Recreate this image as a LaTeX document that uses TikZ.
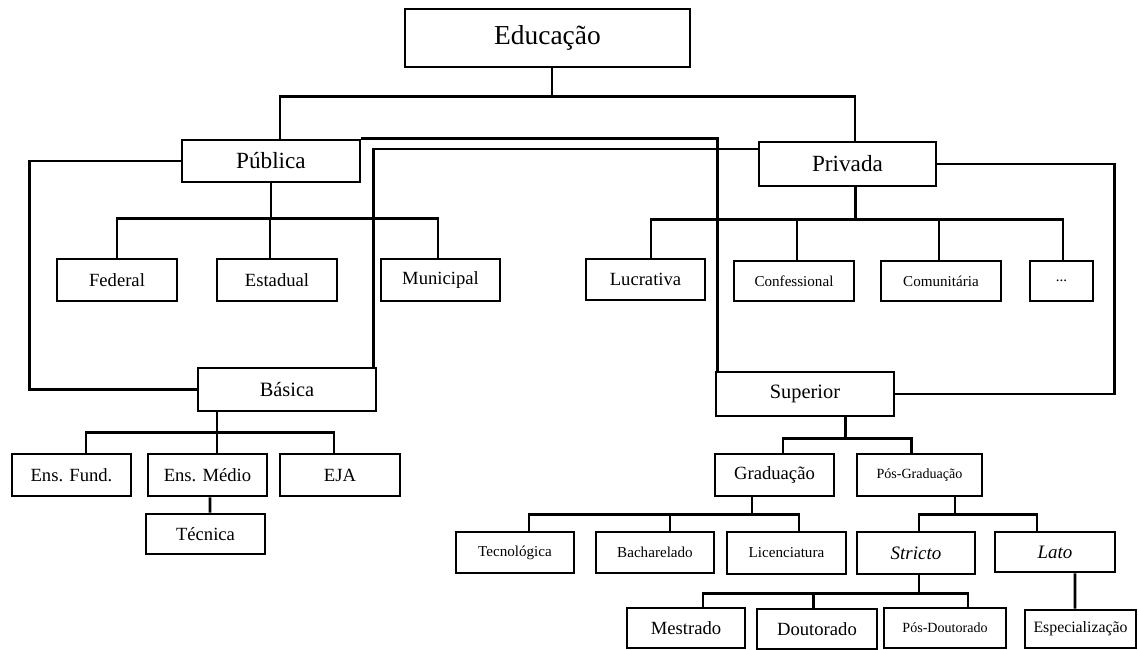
\documentclass[tikz,border=0pt]{standalone}
\usepackage{fontspec}
\setmainfont{Liberation Serif}
\tikzstyle{topbox} = [rectangle, minimum width=5.7cm, minimum height=1.16cm, text centered,
inner sep=0pt, draw=black, line width=1.5pt, font=\fontsize{15.6}{18}\selectfont]
\tikzstyle{midbox} = [rectangle, minimum width=3.56cm, minimum height=0.86cm, text centered,
inner sep=0pt, draw=black, line width=1.5pt, font=\fontsize{13.2}{15}\selectfont]
\tikzstyle{leafbox} = [rectangle, minimum width=2.38cm, minimum height=0.82cm, text centered,
inner sep=0pt, draw=black, line width=1.5pt, font=\fontsize{10.6}{12}\selectfont]
\tikzstyle{smallleaf} = [leafbox, font=\fontsize{8.6}{10}\selectfont]
\tikzstyle{link} = [line width=1.5pt]

\begin{document}
\begin{tikzpicture}[node distance = 1.5cm]
\useasboundingbox (-10.95,0.76) rectangle (11.83,-12.24);

% ------------------------- nodes -------------------------
% ----- node: 0
\node(0)[topbox]{Educação};
% ----- node: 1
\node(1)[midbox, below of=0, xshift=-5.53cm, yshift=-0.96cm, minimum height=0.84cm]{Pública};
\node(fed1)[leafbox, below of=1, xshift=-3.08cm, yshift=-0.88cm, minimum width=2.40cm, minimum height=0.84cm]{Federal};
\node(est1)[leafbox, below of=1, xshift=0.12cm, yshift=-0.88cm, minimum width=2.40cm, minimum height=0.84cm]{Estadual};
\node(mun1)[leafbox, below of=1, xshift=3.39cm, yshift=-0.88cm, minimum height=0.84cm]{Municipal};
% ----- node: 2
\node(2)[midbox, below of=0, xshift=6.00cm, yshift=-1.02cm, minimum width=3.54cm, minimum height=0.88cm]{Privada};
\node(luc2)[leafbox, below of=2, xshift=-4.04cm, yshift=-0.81cm]{Lucrativa};
\node(conf2)[smallleaf, below of=2, xshift=-1.07cm, yshift=-0.84cm, minimum width=2.40cm, minimum height=0.80cm]{Confessional};
\node(com2)[smallleaf, below of=2, xshift=1.87cm, yshift=-0.84cm, minimum width=2.40cm, minimum height=0.80cm]{Comunitária};
\node(etc2)[smallleaf, below of=2, xshift=4.28cm, yshift=-0.84cm, minimum width=1.26cm, minimum height=0.80cm]{...};
% ----- node: 3
\node(3)[midbox, below of=1, xshift=0.32cm, yshift=-3.07cm, font=\fontsize{11.6}{14}\selectfont]{Básica};
\node(fund3)[leafbox, below of=3, xshift=-4.31cm, yshift=-0.21cm, minimum height=0.84cm]{Ens. Fund.};
\node(med3)[leafbox, below of=3, xshift=-1.59cm, yshift=-0.21cm, minimum height=0.84cm]{Ens. Médio};
\node(eja3)[leafbox, below of=3, xshift=1.06cm, yshift=-0.21cm, minimum width=2.40cm, minimum height=0.84cm]{EJA};
\node(tec3)[leafbox, below of=med3, xshift=-0.04cm, yshift=0.32cm, minimum height=0.80cm]{Técnica};
% ----- node: 4
\node(4)[midbox, below of=2, xshift=-0.85cm, yshift=-3.10cm, minimum height=0.88cm, font=\fontsize{11.6}{14}\selectfont]{Superior};
% ----- node: 5
\node(5)[leafbox, below of=4, xshift=-0.61cm, yshift=-0.12cm, minimum height=0.84cm]{Graduação};
\node(tecn5)[smallleaf, below of=5, xshift=-5.19cm, yshift=-0.05cm, minimum width=2.36cm]{Tecnológica};
\node(bach5)[smallleaf, below of=5, xshift=-2.39cm, yshift=-0.05cm, minimum width=2.36cm]{Bacharelado};
\node(lic5)[smallleaf, below of=5, xshift=0.24cm, yshift=-0.06cm, minimum height=0.84cm]{Licenciatura};
% ----- node: 6
\node(6)[leafbox, below of=4, xshift=2.29cm, yshift=-0.12cm, minimum width=2.50cm, minimum height=0.84cm, font=\fontsize{8}{10}\selectfont]{Pós-Graduação};
% ----- node: 7
\node(7)[leafbox, below of=6, xshift=-0.07cm, yshift=-0.06cm, minimum width=2.36cm, minimum height=0.84cm, font=\fontsize{10.8}{13}\selectfont]{\textit{Stricto}};
\node(mes7)[leafbox, below of=7, xshift=-4.60cm, minimum width=2.36cm, minimum height=0.80cm]{Mestrado};
\node(dout7)[leafbox, below of=7, xshift=-1.98cm, yshift=-0.02cm, minimum width=2.40cm, minimum height=0.80cm]{Doutorado};
\node(posd7)[leafbox, below of=7, xshift=0.58cm, minimum width=2.44cm, minimum height=0.80cm, font=\fontsize{8}{10}\selectfont]{Pós-Doutorado};
% ----- node: 8
\node(8)[leafbox, below of=6, xshift=2.71cm, yshift=-0.04cm, minimum width=2.40cm, minimum height=0.80cm, font=\fontsize{10.8}{13}\selectfont]{\textit{Lato}};
\node(esp8)[leafbox, below of=8, xshift=0.51cm, yshift=-0.04cm, minimum width=2.22cm, minimum height=0.76cm, font=\fontsize{9}{11}\selectfont]{Especialização};

% ------------------------- connections -------------------------
% tree branches
\draw[link]([xshift=0.09cm]0.south) -- ++(0,-0.56) -| ([xshift=0.18cm]1.north);
\draw[link]([xshift=0.09cm]0.south) -- ++(0,-0.56) -| ([xshift=0.15cm]2.north);
\draw[link](1.south) -- ++(0,-0.70) -| (fed1.north);
\draw[link](1.south) -- ++(0,-0.70) -| ([xshift=-0.14cm]est1.north);
\draw[link](1.south) -- ++(0,-0.70) -| ([xshift=-0.05cm]mun1.north);
\draw[link]([xshift=0.16cm]2.south) -- ++(0,-0.64) -| ([xshift=0.11cm]luc2.north);
\draw[link]([xshift=0.16cm]2.south) -- ++(0,-0.64) -| ([xshift=0.06cm]conf2.north);
\draw[link]([xshift=0.16cm]2.south) -- ++(0,-0.64) -| ([xshift=-0.04cm]com2.north);
\draw[link]([xshift=0.16cm]2.south) -- ++(0,-0.64) -| ([xshift=0.03cm]etc2.north);
\draw[link]([xshift=-1.40cm]3.south) -- ++(0,-0.40) -| ([xshift=0.29cm]fund3.north);
\draw[link]([xshift=-1.40cm]3.south) -- ++(0,-0.40) -| ([xshift=0.19cm]med3.north);
\draw[link]([xshift=-1.40cm]3.south) -- ++(0,-0.40) -| ([xshift=-0.12cm]eja3.north);
\draw[link]([xshift=0.05cm]med3.south) -- ([xshift=0.09cm]tec3.north);
\draw[link]([xshift=0.81cm]4.south) -- ++(0,-0.42) -| ([xshift=0.17cm]5.north);
\draw[link]([xshift=0.81cm]4.south) -- ++(0,-0.42) -| ([xshift=-0.16cm]6.north);
\draw[link]([xshift=-0.45cm]5.south) -- ++(0,-0.34) -| ([xshift=0.28cm]tecn5.north);
\draw[link]([xshift=-0.45cm]5.south) -- ++(0,-0.34) -| ([xshift=0.30cm]bach5.north);
\draw[link]([xshift=-0.45cm]5.south) -- ++(0,-0.34) -| ([xshift=0.25cm]lic5.north);
\draw[link]([xshift=0.71cm]6.south) -- ++(0,-0.34) -| ([xshift=0.06cm]7.north);
\draw[link]([xshift=0.71cm]6.south) -- ++(0,-0.34) -| ([xshift=-0.36cm]8.north);
\draw[link]([xshift=0.06cm]7.south) -- ++(0,-0.36) -| ([xshift=0.34cm]mes7.north);
\draw[link]([xshift=0.06cm]7.south) -- ++(0,-0.36) -| ([xshift=-0.07cm]dout7.north);
\draw[link]([xshift=0.06cm]7.south) -- ++(0,-0.36) -| ([xshift=0.46cm]posd7.north);
\draw[link]([xshift=0.40cm]8.south) -- ([xshift=-0.11cm]esp8.north);
% cross links
\draw[link](1.west) -- ++(-3.02,0) |- (3.west);
\draw[link](1.north east) -| ([xshift=0.06cm]4.north west);
\draw[link]([yshift=0.30cm]2.west) -| ([xshift=-0.08cm]3.north east);
\draw[link](2.east) -- ++(3.54,0) |- (4.east);
\end{tikzpicture}
\end{document}
